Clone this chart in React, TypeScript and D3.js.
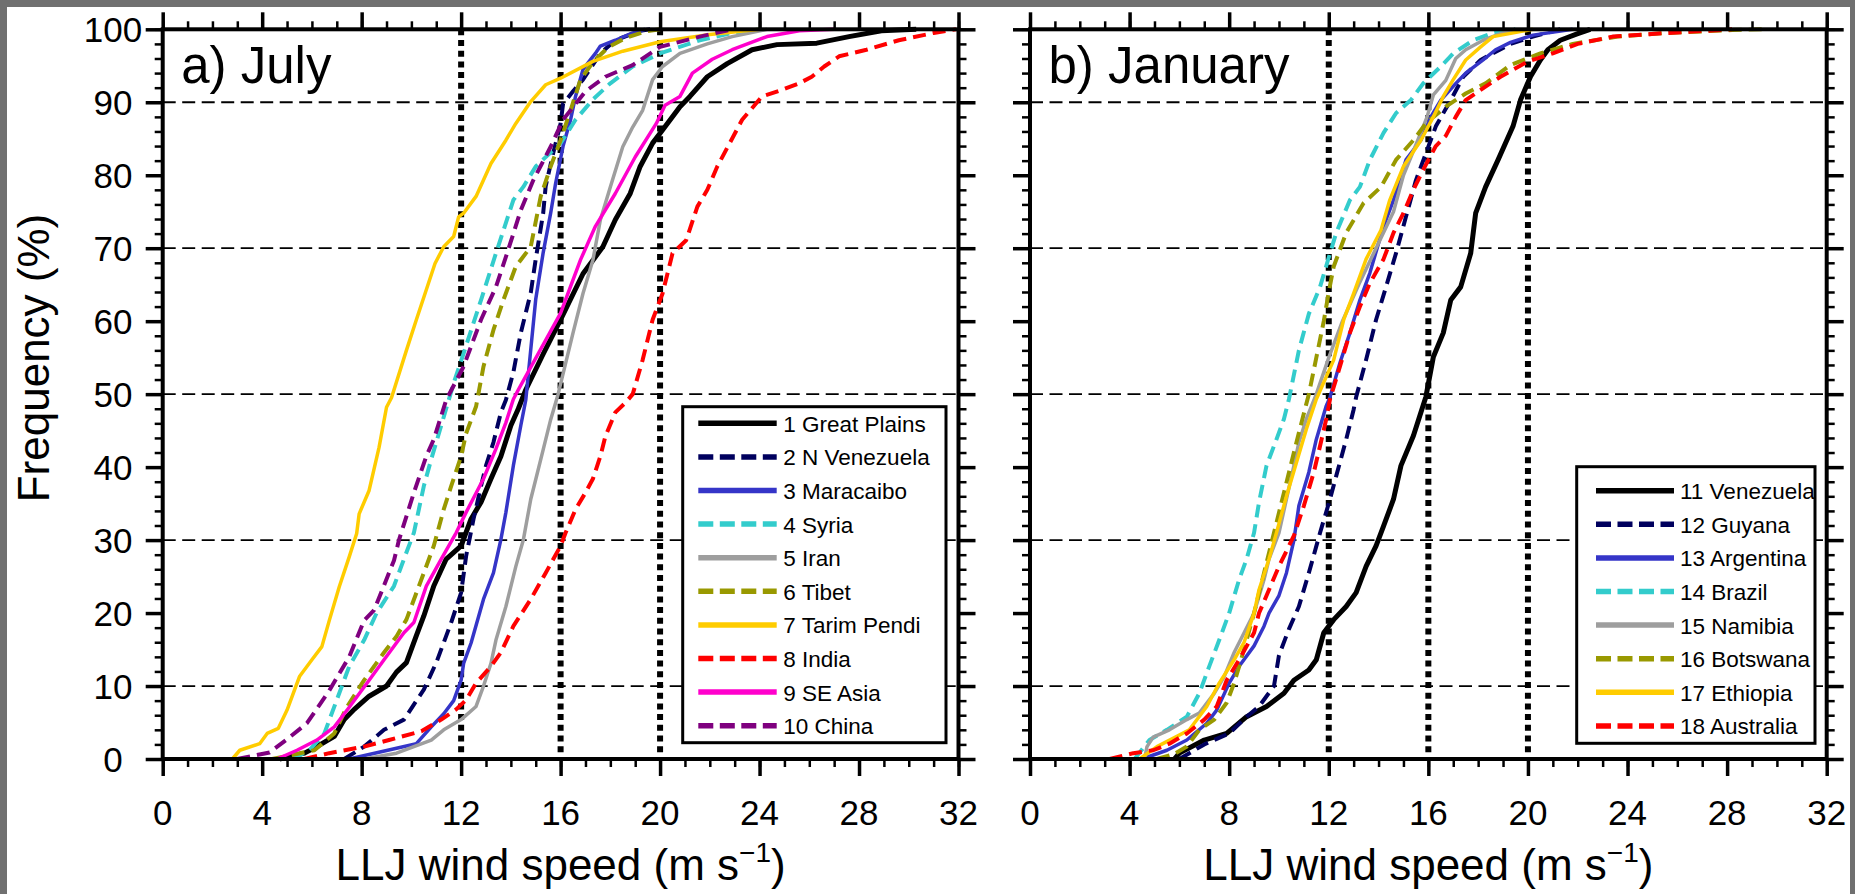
import React, { useEffect, useRef } from 'react';
import * as d3 from 'd3';

type Pt = [number, number]; // [LLJ wind speed (m/s), cumulative frequency (%)]

// a) July
const greatPlains: Pt[] = [[4.7,0],[5.7,0.8],[6.2,1.7],[6.9,3.1],[7.3,5.4],[7.7,6.8],[8.3,8.6],[9.0,10],[9.4,11.9],[9.8,13.2],[10.2,16.9],[10.5,19.6],[10.9,23.7],[11.4,27.4],[12.0,29.2],[12.4,32.9],[12.8,35.2],[13.2,38.4],[13.6,41.5],[14.0,45.7],[14.3,48],[14.6,50.6],[15.3,55.5],[16.0,60.2],[16.9,66.5],[17.7,70.2],[18.2,73.9],[18.8,77.5],[19.2,81.2],[19.7,84.4],[20.1,86.2],[20.8,89.4],[21.2,90.8],[21.9,93.5],[22.7,95.3],[23.7,97.2],[24.7,97.9],[26.3,98.1],[27.6,99],[28.9,99.8],[30.3,100]];
const nVenezuela: Pt[] = [[7.3,0],[8.1,1.7],[8.9,4],[9.7,5.4],[10.5,9.5],[11.0,13.2],[11.6,18.7],[12.0,22.8],[12.2,27.8],[12.5,32.9],[12.8,37.4],[13.0,40.2],[13.3,43.4],[13.6,47.5],[13.8,49.2],[14.1,53],[14.4,58.4],[14.8,63.9],[15.0,68.5],[15.3,74.8],[15.4,78.5],[15.7,83],[16.0,87.1],[16.1,89.8],[16.5,91.5],[16.9,93.1],[17.6,96.7],[18.2,98.5],[19.2,99.8],[19.6,100]];
const maracaibo: Pt[] = [[7.5,0],[10.2,2.1],[10.8,4.4],[11.3,6.2],[11.7,8],[12.0,10.8],[12.1,13.1],[12.4,15.9],[12.9,21.9],[13.3,25.5],[13.6,30.1],[13.8,33.8],[14.1,40.2],[14.4,45.7],[14.6,49.2],[14.8,56.1],[15.0,63],[15.3,69.4],[15.6,74.8],[15.8,78.9],[16.1,84],[16.4,87.6],[16.6,90.8],[16.9,94.5],[17.4,96.7],[17.6,97.7],[18.2,98.5],[18.9,99.5],[19.4,100]];
const syria: Pt[] = [[5.2,0],[5.9,1.2],[6.5,3.5],[7.0,8.1],[7.5,12.7],[8.1,16.3],[8.6,20],[9.3,23.7],[9.8,28.3],[10.1,31],[10.5,37.4],[10.8,41.1],[11.2,45.7],[11.7,51.5],[12.1,55.6],[12.8,62.9],[13.4,69.3],[14.1,76.6],[14.5,78.4],[15.0,81.2],[16.0,84.4],[16.6,87.6],[17.3,90.4],[18.0,92.6],[18.9,94.9],[20.0,96.7],[21.6,98.5],[22.9,99.5],[24.0,100]];
const iran: Pt[] = [[8.1,0],[9.4,0.8],[10.1,1.7],[10.8,2.6],[11.3,4],[12.0,5.4],[12.6,7.2],[12.9,10],[13.2,13.1],[13.4,16.3],[13.8,20.9],[14.2,26.4],[14.5,30],[14.8,35.6],[15.0,38.3],[15.3,42.4],[15.6,46.5],[15.9,50],[16.5,58.4],[16.9,63.8],[17.3,68.4],[17.6,73.9],[18.0,78.4],[18.5,83.9],[18.9,86.6],[19.3,88.9],[19.7,93.1],[20.1,94.9],[20.8,96.7],[21.9,98],[22.9,99],[24.3,100]];
const tibet: Pt[] = [[4.4,0],[6.1,1.2],[6.9,3.5],[7.4,7.1],[8.1,10.8],[8.9,14.6],[9.4,16.8],[9.8,19.1],[10.5,25.5],[10.9,29.2],[11.3,34.2],[11.6,37.4],[12.0,41.5],[12.2,44.6],[12.6,48.3],[12.9,53.8],[13.3,58.8],[13.7,62.9],[14.2,67.5],[14.8,70.2],[15.2,77.1],[15.6,81.2],[16.0,84.8],[16.4,88.9],[16.8,93.1],[17.3,95.5],[17.9,97.5],[18.6,98.8],[19.4,99.7],[20.0,100]];
const tarimPendi: Pt[] = [[2.8,0],[3.1,1.2],[3.9,2.1],[4.2,3.5],[4.65,4.2],[5.0,6.7],[5.25,9],[5.5,11.3],[6.0,13.6],[6.4,15.4],[6.7,19],[7.1,23.6],[7.5,27.7],[7.8,30.9],[7.9,33.6],[8.3,36.8],[8.7,42.7],[9.0,48.2],[9.2,49.5],[9.8,56],[10.2,60.2],[10.55,63.8],[10.95,67.9],[11.3,70.2],[11.7,71.6],[11.9,74.3],[12.1,74.8],[12.6,77.1],[13.2,81.6],[13.8,84.8],[14.2,87.1],[14.8,90.1],[15.4,92.4],[16.0,93.3],[17.3,95.6],[18.5,97],[20.0,98.3],[22.0,99.3],[24.0,100]];
const india: Pt[] = [[5.7,0],[6.7,0.8],[8.1,1.7],[9.1,2.6],[10.4,3.8],[11.2,5.4],[11.8,6.8],[12.2,8.1],[12.6,10.4],[13.2,12.7],[13.6,14.6],[14.1,18.2],[14.8,21.9],[15.4,25.5],[16.0,29.2],[16.2,31],[16.6,34.2],[17.0,36.5],[17.3,38.4],[17.6,41.5],[17.8,44.2],[18.2,47.5],[18.6,48.8],[18.9,50],[19.3,54.7],[19.7,60.2],[20.1,63.8],[20.5,69.3],[21.05,71.1],[21.5,75.7],[21.9,78],[22.3,81.2],[22.8,84.4],[23.3,87.6],[24.1,90.8],[24.9,91.7],[25.6,92.6],[26.1,93.5],[26.6,94.9],[27.2,96.3],[28.3,97.2],[29.6,98.5],[31.0,99.5],[31.9,100]];
const seAsia: Pt[] = [[4.6,0],[5.4,1.2],[6.2,2.6],[6.9,4.4],[7.5,7.1],[8.3,10.8],[8.9,13.6],[9.7,17.3],[10.1,18.7],[10.6,23.7],[11.2,27.4],[11.8,31],[12.2,33.8],[12.9,38.4],[13.4,42.5],[13.8,46.1],[14.1,49.3],[14.3,50.6],[16.0,61.1],[16.8,68.4],[17.4,73],[18.2,77.5],[19.0,82.5],[19.85,87.1],[20.2,89.6],[20.8,90.8],[21.3,94],[22.1,95.9],[22.9,97.2],[24.3,99],[25.6,99.8],[27.0,100]];
const china: Pt[] = [[3.0,0],[4.3,0.9],[5.0,2.7],[5.8,4.9],[6.7,9.4],[7.5,14],[8.1,19],[8.5,20.4],[9.3,27.2],[9.5,30],[10.1,36.5],[10.6,41.5],[10.9,43.8],[11.4,49.2],[12.1,53.8],[12.8,60.2],[13.4,64.7],[13.8,68.8],[14.4,75.2],[14.9,79.3],[15.6,83.9],[16.1,87.6],[17.0,91.5],[17.8,93.5],[18.9,95.1],[20.0,97.6],[21.6,99],[22.9,100]];

// b) January
const venezuela: Pt[] = [[5.8,0],[6.0,0.8],[7.0,2.6],[7.9,3.5],[8.7,5.8],[9.5,7.2],[10.2,9],[10.6,10.8],[11.2,12.2],[11.5,13.6],[11.8,17.3],[12.2,19.1],[12.7,20.9],[13.1,22.8],[13.5,26.4],[13.9,29.2],[14.2,31.9],[14.6,35.6],[14.9,40.2],[15.4,44.3],[15.7,47.5],[15.9,49.6],[16.2,55.1],[16.6,58.4],[16.9,62.9],[17.3,64.7],[17.7,69.3],[17.9,74.8],[18.3,78.4],[18.8,82.1],[19.4,86.7],[19.7,90.3],[20.1,93.5],[20.5,95.8],[20.8,97.2],[21.3,98.5],[22.0,99.4],[22.5,100]];
const guyana: Pt[] = [[6.0,0],[7.0,2.0],[8.0,3.5],[8.7,5.8],[9.2,7.2],[9.8,10],[10.0,14.2],[10.4,17.8],[10.8,20.9],[11.2,25.5],[11.65,31],[12.05,35.6],[12.3,38.8],[12.7,43.8],[13.0,47.9],[13.1,49.6],[13.5,54.7],[13.9,60.2],[14.3,64.7],[14.7,69.3],[15.1,74.3],[15.5,79.3],[15.9,83],[16.3,86.7],[16.9,90.3],[17.4,93.5],[18.1,95.8],[19.3,98],[20.2,99],[21.3,100]];
const argentina: Pt[] = [[4.5,0],[5.5,1.2],[6.3,2.6],[7.1,4.9],[7.5,6.7],[8.0,10.4],[8.4,12.7],[9.0,15.5],[9.4,18.2],[9.6,20],[10.0,22.4],[10.3,25.5],[10.6,30],[10.8,34.7],[11.2,39.3],[11.5,43.8],[11.9,48.4],[12.05,49.6],[12.45,54.3],[12.85,58.4],[13.25,62.9],[13.65,66.6],[14.2,73],[14.6,76.6],[15.1,82.1],[15.7,84.8],[16.1,88],[16.5,90.3],[17.0,92.2],[17.5,94],[18.2,95.8],[18.7,97.2],[19.3,98.2],[20.2,99.2],[21.8,100]];
const brazil: Pt[] = [[4.2,0],[4.8,2.6],[5.5,4],[6.3,5.8],[6.8,9],[7.2,12.7],[7.6,16.3],[8.0,20],[8.4,24.6],[8.7,27.4],[9.0,31],[9.2,35.2],[9.5,40.2],[9.9,43.8],[10.2,46.6],[10.4,49.3],[10.8,56],[11.2,61],[11.65,64.7],[12.05,69.3],[12.3,72.1],[12.85,76.6],[13.25,78.4],[13.65,82.1],[14.2,85.8],[14.7,88.5],[15.3,90.3],[15.8,92.6],[16.5,94.9],[17.0,96.7],[17.8,98.5],[18.6,99.5],[19.5,100]];
const namibia: Pt[] = [[4.6,0],[4.7,1.7],[4.95,3],[5.6,4],[6.3,5.4],[6.8,6.3],[7.4,9],[7.8,11.3],[8.2,14.6],[8.6,17.3],[9.0,20],[9.4,24.6],[9.6,27.4],[10.0,31],[10.3,35.6],[10.6,40.2],[10.8,43.4],[11.1,46.6],[11.5,50],[12.0,55],[12.55,60],[13.2,65],[13.9,70],[14.6,75],[15.0,80],[15.6,85],[15.95,88],[16.2,91],[16.7,93],[17.1,96],[17.5,97.2],[18.2,98.5],[18.9,99.4],[19.5,100]];
const botswana: Pt[] = [[5.1,0],[5.8,0.7],[6.3,1.7],[6.8,4],[7.4,5.4],[7.9,7.7],[8.2,10.4],[8.4,12.7],[8.7,16.3],[9.0,20],[9.4,25.5],[9.8,31],[10.2,36.5],[10.6,42],[10.8,44.7],[11.2,50],[11.5,55],[11.8,60],[12.0,64],[12.2,67.5],[12.7,72.1],[13.4,76.2],[14.1,78.4],[14.7,82.1],[15.4,84.8],[15.9,87.1],[16.7,89.4],[17.5,91.2],[18.3,92.6],[19.3,95.1],[20.5,96.7],[21.8,98],[23.6,99],[25.6,99.5],[28.2,99.9],[29.4,100]];
const ethiopia: Pt[] = [[4.4,0],[5.1,1.7],[5.9,3.1],[6.4,4],[7.1,7.2],[7.6,10.4],[8.2,13.6],[8.6,16],[9.0,20],[9.2,23.2],[9.6,27.4],[9.9,31],[10.3,36],[10.7,40.6],[11.1,45.2],[11.5,49.3],[12.2,54.7],[12.6,60.2],[13.0,63.8],[13.5,68.5],[14.1,72.5],[14.45,76.6],[15.0,81.2],[15.7,84.8],[16.2,88],[16.6,90.8],[17.0,93.1],[17.5,95.8],[18.1,97.6],[18.6,99],[20.2,100]];
const australia: Pt[] = [[3.2,0],[4.15,0.8],[4.95,1.2],[5.6,2.1],[6.3,3.5],[7.0,5.4],[7.5,7.2],[7.9,10.8],[8.4,13.6],[9.0,17.3],[9.2,20],[9.6,23.2],[10.0,26.4],[10.6,30.6],[11.0,34.7],[11.4,39.3],[11.65,42.9],[11.9,46.6],[12.05,49.3],[12.45,53.8],[12.85,58.4],[13.25,62],[13.65,65.2],[14.2,68.5],[14.6,72.1],[15.0,74.8],[15.4,78],[15.8,80.8],[16.3,84],[16.7,85.4],[17.1,88],[17.5,90.3],[18.1,91.7],[18.9,93.5],[20.0,95.6],[21.0,96.7],[22.0,98],[23.4,99],[25.6,99.5],[28.2,100]];

const julyCurves = [greatPlains, nVenezuela, maracaibo, syria, iran, tibet, tarimPendi, india, seAsia, china];
const julyNames = ['1 Great Plains', '2 N Venezuela', '3 Maracaibo', '4 Syria', '5 Iran', '6 Tibet', '7 Tarim Pendi', '8 India', '9 SE Asia', '10 China'];
const januaryCurves = [venezuela, guyana, argentina, brazil, namibia, botswana, ethiopia, australia];
const januaryNames = ['11 Venezuela', '12 Guyana', '13 Argentina', '14 Brazil', '15 Namibia', '16 Botswana', '17 Ethiopia', '18 Australia'];

const xTicks = [0, 4, 8, 12, 16, 20, 24, 28, 32];
const yTicks = [0, 10, 20, 30, 40, 50, 60, 70, 80, 90, 100];
const gridFreqs = [10, 30, 50, 70, 90];
const markSpeeds = [12, 16, 20];

const lineColors = ['#000000', '#00005e', '#3535c8', '#33cccc', '#9e9e9e', '#999900', '#ffcc00', '#ff0000', '#ff00cc', '#7f007f'];
const lineDashed = [false, true, false, true, false, true, false, true, false, true];

const FONT = '"Liberation Sans", Arial, Helvetica, sans-serif';

function App() {
  const svgRef = useRef<SVGSVGElement>(null);

  useEffect(() => {
    const W = 1855, H = 894;
    const svg = d3.select(svgRef.current);
    svg.selectAll('*').remove();

    // grey frame round the picture
    svg.append('rect').attr('width', W).attr('height', H).attr('fill', '#707070');
    svg.append('rect').attr('x', 7).attr('y', 7).attr('width', W - 12).attr('height', H - 7).attr('fill', '#ffffff');

    const top = 29.3, bottom = 759;
    const y = d3.scaleLinear().domain([0, 100]).range([bottom, top]);

    const panels = [
      { left: 162.7, right: 958.5, curves: julyCurves, names: julyNames, title: 'a) July', yLabels: true,
        legend: { x: 682.7, y: 406.7, w: 263.3, h: 336, l0: 15.6, l1: 94, tx: 100.6, r0: 16.6 } },
      { left: 1030, right: 1826.7, curves: januaryCurves, names: januaryNames, title: 'b) January', yLabels: false,
        legend: { x: 1576.7, y: 466.7, w: 238.3, h: 276.6, l0: 19.3, l1: 97.3, tx: 103.3, r0: 24 } },
    ];

    panels.forEach(p => {
      const x = d3.scaleLinear().domain([0, 32]).range([p.left, p.right]);
      const g = svg.append('g');

      // dashed horizontal grid
      g.selectAll('.grid').data(gridFreqs).enter().append('line')
        .attr('x1', p.left).attr('x2', p.right)
        .attr('y1', d => y(d)).attr('y2', d => y(d))
        .attr('stroke', '#000').attr('stroke-width', 1.8).attr('stroke-dasharray', '13,6.5');

      // dotted reference speeds
      g.selectAll('.mark').data(markSpeeds).enter().append('line')
        .attr('x1', d => x(d)).attr('x2', d => x(d))
        .attr('y1', top).attr('y2', bottom)
        .attr('stroke', '#000').attr('stroke-width', 6).attr('stroke-dasharray', '6,4.7');

      // curves
      const line = d3.line<Pt>().x(d => x(d[0])).y(d => y(d[1]));
      p.curves.forEach((c, i) => {
        g.append('path')
          .attr('d', line(c))
          .attr('fill', 'none')
          .attr('stroke', lineColors[i])
          .attr('stroke-width', i === 0 ? 5 : lineDashed[i] ? 4 : 3.5)
          .attr('stroke-linejoin', 'round')
          .attr('stroke-dasharray', lineDashed[i] ? '13,7' : null);
      });

      // frame
      g.append('rect').attr('x', p.left).attr('y', top)
        .attr('width', p.right - p.left).attr('height', bottom - top)
        .attr('fill', 'none').attr('stroke', '#000').attr('stroke-width', 4);

      // ticks: minor and major on every side, pointing outwards
      const addAxis = (axis: d3.Axis<d3.NumberValue>, tx: number, ty: number, width: number) => {
        const a = g.append('g').attr('transform', `translate(${tx},${ty})`).call(axis);
        a.select('.domain').remove();
        a.selectAll('text').remove();
        a.selectAll('line').attr('stroke', '#000').attr('stroke-width', width);
      };
      const xMinor = d3.range(0, 33, 1);
      const yMinor = d3.range(0, 101, 2);
      addAxis(d3.axisBottom(x).tickValues(xMinor).tickSize(8), 0, bottom, 2.5);
      addAxis(d3.axisBottom(x).tickValues(xTicks).tickSize(17), 0, bottom, 3.5);
      addAxis(d3.axisTop(x).tickValues(xMinor).tickSize(8), 0, top, 2.5);
      addAxis(d3.axisTop(x).tickValues(xTicks).tickSize(17), 0, top, 3.5);
      addAxis(d3.axisLeft(y).tickValues(yMinor).tickSize(8), p.left, 0, 2.5);
      addAxis(d3.axisLeft(y).tickValues(yTicks).tickSize(17), p.left, 0, 3.5);
      addAxis(d3.axisRight(y).tickValues(yMinor).tickSize(8), p.right, 0, 2.5);
      addAxis(d3.axisRight(y).tickValues(yTicks).tickSize(17), p.right, 0, 3.5);

      // tick labels
      g.selectAll('.xl').data(xTicks).enter().append('text')
        .attr('x', d => x(d)).attr('y', 825)
        .attr('text-anchor', 'middle').attr('font-family', FONT).attr('font-size', 35)
        .text(d => d);
      if (p.yLabels) {
        g.selectAll('.yl').data(yTicks).enter().append('text')
          .attr('x', 113).attr('y', d => y(d) + 12.5)
          .attr('text-anchor', 'middle').attr('font-family', FONT).attr('font-size', 35)
          .text(d => d);
      }

      // x axis title
      const xt = g.append('text')
        .attr('x', (p.left + p.right) / 2).attr('y', 880)
        .attr('text-anchor', 'middle').attr('font-family', FONT).attr('font-size', 44);
      xt.append('tspan').text('LLJ wind speed (m s');
      xt.append('tspan').attr('font-size', 28).attr('dy', -18).text('\u22121');
      xt.append('tspan').attr('dy', 18).text(')');

      // panel title
      g.append('text').attr('x', p.left + 18.5).attr('y', 83)
        .attr('font-family', FONT).attr('font-size', 51).text(p.title);

      // legend
      const L = p.legend;
      const lg = g.append('g').attr('transform', `translate(${L.x},${L.y})`);
      lg.append('rect').attr('width', L.w).attr('height', L.h)
        .attr('fill', '#fff').attr('stroke', '#000').attr('stroke-width', 3);
      p.names.forEach((name, i) => {
        const ry = L.r0 + i * 33.6;
        lg.append('line').attr('x1', L.l0).attr('x2', L.l1).attr('y1', ry).attr('y2', ry)
          .attr('stroke', lineColors[i]).attr('stroke-width', 5.5)
          .attr('stroke-dasharray', lineDashed[i] ? '15,6.5' : null);
        lg.append('text').attr('x', L.tx).attr('y', ry + 8.5)
          .attr('font-family', FONT).attr('font-size', 22.5).text(name);
      });
    });

    // y axis title
    svg.append('text')
      .attr('transform', 'translate(49,358) rotate(-90)')
      .attr('text-anchor', 'middle').attr('font-family', FONT).attr('font-size', 44)
      .text('Frequency (%)');
  }, []);

  return (
    <svg ref={svgRef} width={1855} height={894} style={{ position: 'absolute', left: 0, top: 0, display: 'block' }}></svg>
  );
}

export default App;
